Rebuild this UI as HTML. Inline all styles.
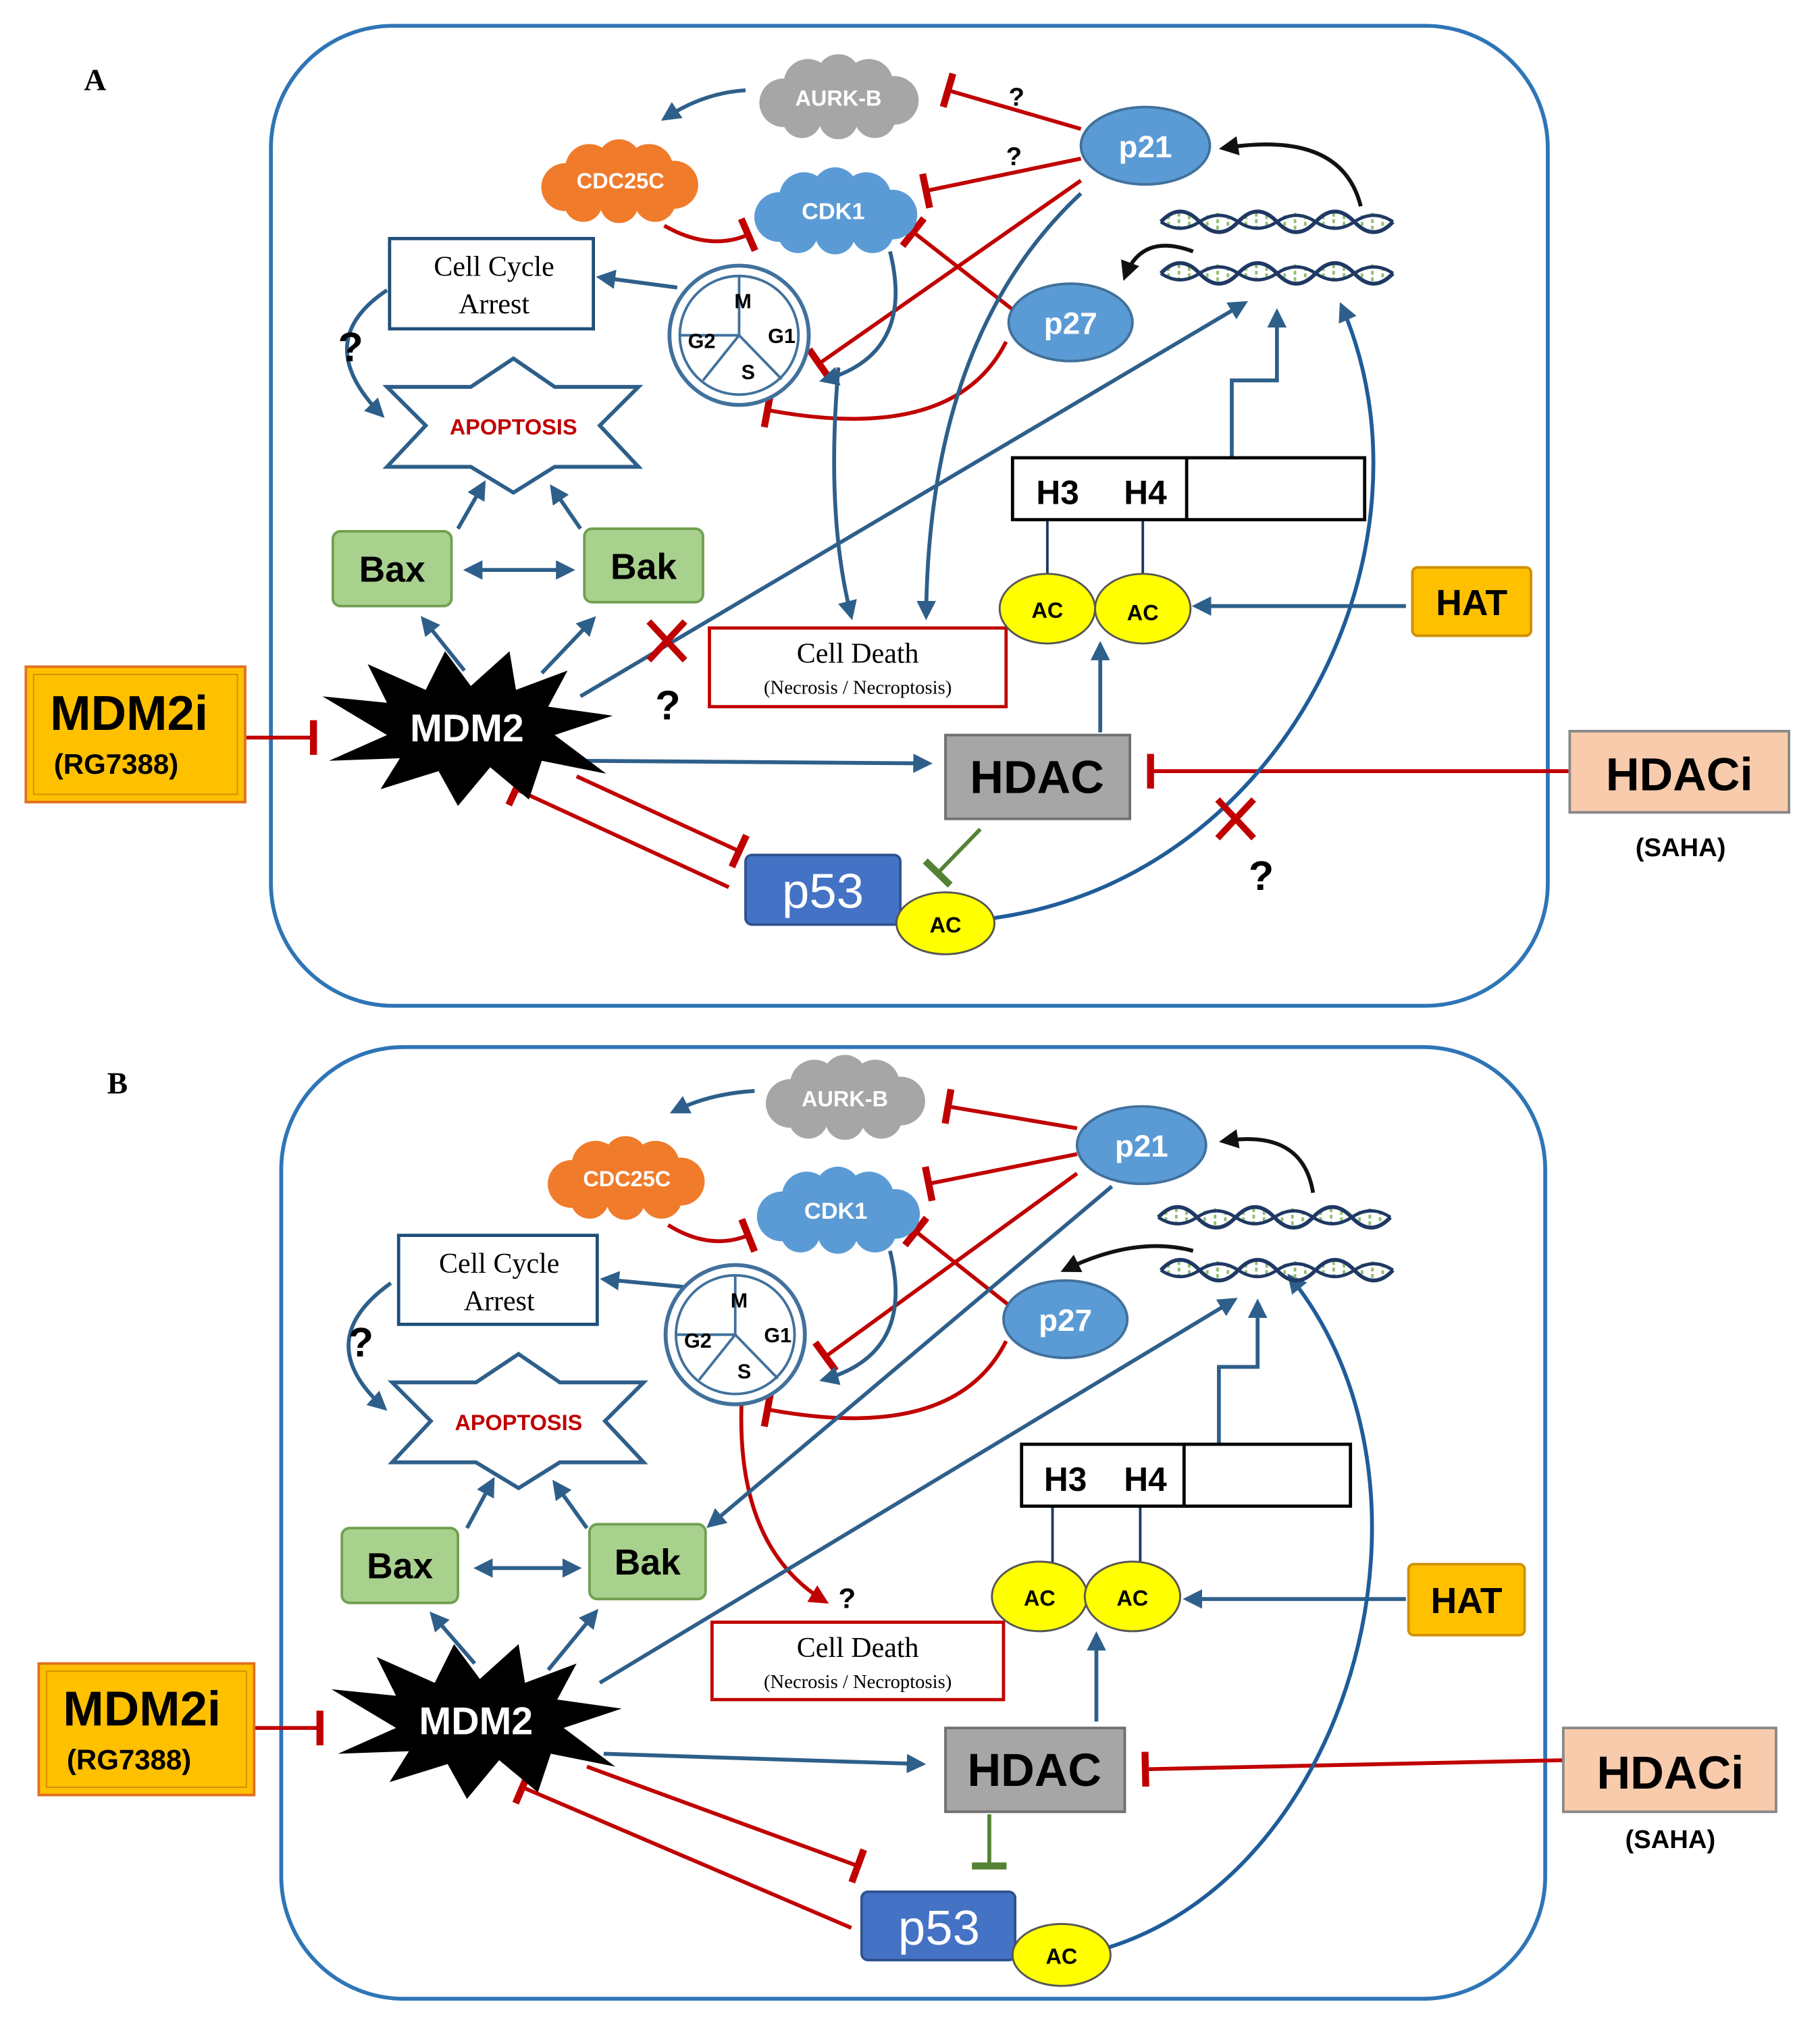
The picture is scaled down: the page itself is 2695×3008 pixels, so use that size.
<!DOCTYPE html>
<html><head><meta charset="utf-8"><style>
html,body{margin:0;padding:0;background:#fff}
svg{display:block}
text{font-family:"Liberation Sans","DejaVu Sans",sans-serif}
.serif{font-family:"Liberation Serif",serif}
</style></head><body>
<svg width="2695" height="3008" viewBox="0 0 1411 1575" xmlns="http://www.w3.org/2000/svg">
<defs>
<marker id="ab" viewBox="0 0 10 10" refX="8" refY="5" markerWidth="5" markerHeight="5" orient="auto-start-reverse"><path d="M0,0L10,5L0,10z" fill="#2e5f8a"/></marker>
<marker id="ak" viewBox="0 0 10 10" refX="8" refY="5" markerWidth="5" markerHeight="5" orient="auto"><path d="M0,0L10,5L0,10z" fill="#111"/></marker>
<marker id="ar" viewBox="0 0 10 10" refX="8" refY="5" markerWidth="5" markerHeight="5" orient="auto"><path d="M0,0L10,5L0,10z" fill="#c00000"/></marker>
<marker id="tr" viewBox="0 0 4 20" refX="2" refY="10" markerWidth="3" markerHeight="9" orient="auto"><rect x="0" y="0" width="4" height="20" fill="#c00000"/></marker>
<marker id="tg" viewBox="0 0 4 20" refX="2" refY="10" markerWidth="3" markerHeight="9" orient="auto"><rect x="0" y="0" width="4" height="20" fill="#548235"/></marker>
<symbol id="cloud" viewBox="0 0 140 70">
<circle cx="25" cy="40" r="20"/><circle cx="45" cy="24" r="20"/><circle cx="70" cy="18" r="18"/><circle cx="95" cy="24" r="20"/><circle cx="116" cy="38" r="20"/><circle cx="100" cy="52" r="17"/><circle cx="70" cy="54" r="16"/><circle cx="40" cy="53" r="16"/><circle cx="70" cy="37" r="26"/>
</symbol>
<g id="dna" fill="none">
<path d="M0,0v0M6,-5v10M14,-7v14M22,-5v10M36,-5v10M44,-7v14M52,-5v10M66,-5v10M74,-7v14M82,-5v10M96,-5v10M104,-7v14M112,-5v10M126,-5v10M134,-7v14M142,-5v10M156,-5v10M164,-7v14M172,-5v10" stroke="#8fbf6f" stroke-width="2" stroke-dasharray="3 2"/>
<path d="M0,0 q15,-16 30,0 t30,0 t30,0 t30,0 t30,0 t30,0" stroke="#1f3864" stroke-width="3"/>
<path d="M0,0 q15,10 30,0 t30,0 t30,0 t30,0 t30,0 t30,0" stroke="#1f3864" stroke-width="2.5"/>
</g>
</defs>

<!-- ================= PANEL A ================= -->
<text x="65" y="70" class="serif" font-size="24" font-weight="bold">A</text>
<rect x="210" y="20" width="990" height="760" rx="95" fill="none" stroke="#2e75b6" stroke-width="3"/>

<g fill="none" stroke-width="3">
<path d="M838,100 L735,70" stroke="#c00000" marker-end="url(#tr)"/>
<path d="M838,123 L718,148" stroke="#c00000" marker-end="url(#tr)"/>
<path d="M838,140 L635,282" stroke="#c00000" marker-end="url(#tr)"/>
<path d="M785,240 L708,180" stroke="#c00000" marker-end="url(#tr)"/>
<path d="M780,265 Q740,345 595,318" stroke="#c00000" marker-end="url(#tr)"/>
<path d="M515,175 Q550,195 580,182" stroke="#c00000" marker-end="url(#tr)"/>
<path d="M578,70 Q545,72 515,92" stroke="#2e5f8a" marker-end="url(#ab)"/>
<path d="M690,195 Q710,275 638,295" stroke="#2e5f8a" marker-end="url(#ab)"/>
<path d="M838,150 Q720,260 718,478" stroke="#2e5f8a" marker-end="url(#ab)"/>
<path d="M650,285 Q640,400 660,478" stroke="#2e5f8a" marker-end="url(#ab)"/>
<path d="M525,223 L465,215" stroke="#2e5f8a" marker-end="url(#ab)"/>
<path d="M300,225 Q240,265 296,322" stroke="#2e5f8a" marker-end="url(#ab)"/>
<path d="M1055,160 Q1040,100 948,115" stroke="#111" marker-end="url(#ak)"/>
<path d="M925,195 Q885,180 872,215" stroke="#111" marker-end="url(#ak)"/>
<path d="M355,410 L375,375" stroke="#2e5f8a" marker-end="url(#ab)"/>
<path d="M450,410 L428,378" stroke="#2e5f8a" marker-end="url(#ab)"/>
<path d="M362,442 L443,442" stroke="#2e5f8a" marker-start="url(#ab)" marker-end="url(#ab)"/>
<path d="M360,520 L328,480" stroke="#2e5f8a" marker-end="url(#ab)"/>
<path d="M420,522 L460,480" stroke="#2e5f8a" marker-end="url(#ab)"/>
<path d="M450,540 L965,235" stroke="#2e5f8a" marker-end="url(#ab)"/>
<path d="M955,355 V295 H990 V242" stroke="#2e5f8a" marker-end="url(#ab)"/>
<path d="M455,590 L720,592" stroke="#2e5f8a" marker-end="url(#ab)"/>
<path d="M853,568 L853,500" stroke="#2e5f8a" marker-end="url(#ab)"/>
<path d="M1090,470 L927,470" stroke="#2e5f8a" marker-end="url(#ab)"/>
<path d="M190,572 L243,572" stroke="#c00000" marker-end="url(#tr)"/>
<path d="M1217,598 L892,598" stroke="#c00000" marker-end="url(#tr)"/>
<path d="M760,643 L727,677" stroke="#548235" marker-end="url(#tg)"/>
<path d="M447,602 L573,660" stroke="#c00000" marker-end="url(#tr)"/>
<path d="M565,688 L400,612" stroke="#c00000" marker-end="url(#tr)"/>
<path d="M770,712 C1000,680 1120,420 1040,237" stroke="#1f5c99" marker-end="url(#ab)"/>
<path d="M812,445 V403 M886,445 V403" stroke="#1f3864" stroke-width="2"/>
</g>
<path d="M503,482 L531,512 M531,482 L503,512" stroke="#c00000" stroke-width="5"/>
<path d="M944,620 L972,650 M972,620 L944,650" stroke="#c00000" stroke-width="5"/>
<text x="508" y="558" font-size="32" font-weight="bold">?</text>
<text x="968" y="690" font-size="32" font-weight="bold">?</text>
<text x="782" y="82" font-size="20" font-weight="bold">?</text>
<text x="780" y="128" font-size="20" font-weight="bold">?</text>
<text x="262" y="280" font-size="32" font-weight="bold">?</text>

<use href="#cloud" x="580" y="42" width="140" height="66" fill="#a6a6a6"/>
<text x="650" y="82" font-size="17" font-weight="bold" fill="#fff" text-anchor="middle">AURK-B</text>
<use href="#cloud" x="415" y="103" width="130" height="75" fill="#f07b2b"/>
<text x="481" y="146" font-size="17" font-weight="bold" fill="#fff" text-anchor="middle">CDC25C</text>
<use href="#cloud" x="580" y="126" width="135" height="75" fill="#5b9bd5"/>
<text x="646" y="170" font-size="18" font-weight="bold" fill="#fff" text-anchor="middle">CDK1</text>
<ellipse cx="888" cy="113" rx="50" ry="30" fill="#5b9bd5" stroke="#41719c" stroke-width="2"/>
<text x="888" y="122" font-size="24" font-weight="bold" fill="#fff" text-anchor="middle">p21</text>
<ellipse cx="830" cy="250" rx="48" ry="30" fill="#5b9bd5" stroke="#41719c" stroke-width="2"/>
<text x="830" y="259" font-size="24" font-weight="bold" fill="#fff" text-anchor="middle">p27</text>
<use href="#dna" x="900" y="172"/>
<use href="#dna" x="900" y="212"/>
<rect x="302" y="185" width="158" height="70" fill="#fff" stroke="#1f4e79" stroke-width="2.5"/>
<text x="383" y="214" class="serif" font-size="22" text-anchor="middle">Cell Cycle</text>
<text x="383" y="243" class="serif" font-size="22" text-anchor="middle">Arrest</text>
<g stroke="#41719c" stroke-width="3" fill="#fff">
<circle cx="573" cy="260" r="54"/><circle cx="573" cy="260" r="46" stroke-width="2"/>
<path d="M573,214 V260 M527,260 H573 M573,260 L606,294 M573,260 L545,295" stroke-width="2"/>
</g>
<text x="576" y="239" font-size="16" font-weight="bold" text-anchor="middle">M</text>
<text x="544" y="270" font-size="16" font-weight="bold" text-anchor="middle">G2</text>
<text x="606" y="266" font-size="16" font-weight="bold" text-anchor="middle">G1</text>
<text x="580" y="294" font-size="16" font-weight="bold" text-anchor="middle">S</text>
<polygon points="398,278 430,300 495,300 465,330 495,362 430,362 398,382 365,362 300,362 330,330 300,300 365,300" fill="#fff" stroke="#2e5f8a" stroke-width="3"/>
<text x="398" y="337" font-size="17" font-weight="bold" fill="#c00000" text-anchor="middle">APOPTOSIS</text>
<rect x="258" y="412" width="92" height="58" rx="6" fill="#a9d18e" stroke="#70a050" stroke-width="2"/>
<text x="304" y="451" font-size="28" font-weight="bold" text-anchor="middle">Bax</text>
<rect x="453" y="410" width="92" height="57" rx="6" fill="#a9d18e" stroke="#70a050" stroke-width="2"/>
<text x="499" y="449" font-size="28" font-weight="bold" text-anchor="middle">Bak</text>
<polygon points="250,540 300,545 285,515 330,535 345,505 365,532 395,505 400,535 440,520 425,548 475,555 430,570 470,600 420,590 410,620 380,595 355,625 340,598 295,612 310,588 255,590 300,570" fill="#000"/>
<text x="362" y="575" font-size="30" font-weight="bold" fill="#fff" text-anchor="middle">MDM2</text>
<rect x="20" y="517" width="170" height="105" fill="#ffc000" stroke="#e07020" stroke-width="2"/>
<rect x="26" y="523" width="158" height="93" fill="none" stroke="#d09000" stroke-width="1"/>
<text x="100" y="566" font-size="38" font-weight="bold" text-anchor="middle">MDM2i</text>
<text x="90" y="600" font-size="22" font-weight="bold" text-anchor="middle">(RG7388)</text>
<rect x="550" y="487" width="230" height="61" fill="#fff" stroke="#c00000" stroke-width="2.5"/>
<text x="665" y="514" class="serif" font-size="22" text-anchor="middle">Cell Death</text>
<text x="665" y="538" class="serif" font-size="15" text-anchor="middle">(Necrosis / Necroptosis)</text>
<rect x="785" y="355" width="273" height="48" fill="#fff" stroke="#000" stroke-width="2.5"/>
<path d="M920,355 V403" stroke="#000" stroke-width="2.5"/>
<text x="820" y="391" font-size="26" font-weight="bold" text-anchor="middle">H3</text>
<text x="888" y="391" font-size="26" font-weight="bold" text-anchor="middle">H4</text>
<ellipse cx="812" cy="472" rx="37" ry="27" fill="#ffff00" stroke="#555" stroke-width="1.5"/>
<ellipse cx="886" cy="472" rx="37" ry="27" fill="#ffff00" stroke="#555" stroke-width="1.5"/>
<text x="812" y="479" font-size="17" font-weight="bold" text-anchor="middle">AC</text>
<text x="886" y="481" font-size="17" font-weight="bold" text-anchor="middle">AC</text>
<rect x="1095" y="440" width="92" height="53" rx="4" fill="#ffc000" stroke="#d09000" stroke-width="2"/>
<text x="1141" y="477" font-size="28" font-weight="bold" text-anchor="middle">HAT</text>
<rect x="733" y="570" width="143" height="65" fill="#a6a6a6" stroke="#707070" stroke-width="2"/>
<text x="804" y="615" font-size="36" font-weight="bold" text-anchor="middle">HDAC</text>
<rect x="1217" y="567" width="170" height="63" fill="#f8cbad" stroke="#888" stroke-width="2"/>
<text x="1302" y="613" font-size="36" font-weight="bold" text-anchor="middle">HDACi</text>
<text x="1303" y="664" font-size="20" font-weight="bold" text-anchor="middle">(SAHA)</text>
<rect x="578" y="663" width="120" height="54" rx="5" fill="#4472c4" stroke="#2f528f" stroke-width="2"/>
<text x="638" y="704" font-size="38" fill="#fff" text-anchor="middle">p53</text>
<ellipse cx="733" cy="716" rx="38" ry="24" fill="#ffff00" stroke="#555" stroke-width="1.5"/>
<text x="733" y="723" font-size="17" font-weight="bold" text-anchor="middle">AC</text>

<!-- ================= PANEL B ================= -->
<text x="83" y="848" class="serif" font-size="24" font-weight="bold">B</text>
<rect x="218" y="812" width="980" height="738" rx="95" fill="none" stroke="#2e75b6" stroke-width="3"/>

<g fill="none" stroke-width="3">
<path d="M835,875 L735,858" stroke="#c00000" marker-end="url(#tr)"/>
<path d="M835,895 L720,918" stroke="#c00000" marker-end="url(#tr)"/>
<path d="M835,910 L640,1052" stroke="#c00000" marker-end="url(#tr)"/>
<path d="M782,1012 L710,955" stroke="#c00000" marker-end="url(#tr)"/>
<path d="M780,1040 Q740,1120 595,1093" stroke="#c00000" marker-end="url(#tr)"/>
<path d="M518,950 Q550,970 580,958" stroke="#c00000" marker-end="url(#tr)"/>
<path d="M575,1085 Q570,1200 640,1242" stroke="#c00000" marker-end="url(#ar)"/>
<path d="M585,846 Q550,848 522,862" stroke="#2e5f8a" marker-end="url(#ab)"/>
<path d="M690,970 Q710,1050 638,1070" stroke="#2e5f8a" marker-end="url(#ab)"/>
<path d="M862,920 L550,1183" stroke="#2e5f8a" marker-end="url(#ab)"/>
<path d="M530,998 L468,992" stroke="#2e5f8a" marker-end="url(#ab)"/>
<path d="M303,995 Q240,1040 298,1092" stroke="#2e5f8a" marker-end="url(#ab)"/>
<path d="M1018,925 Q1010,875 948,885" stroke="#111" marker-end="url(#ak)"/>
<path d="M925,970 Q880,958 825,985" stroke="#111" marker-end="url(#ak)"/>
<path d="M362,1185 L382,1148" stroke="#2e5f8a" marker-end="url(#ab)"/>
<path d="M455,1185 L430,1150" stroke="#2e5f8a" marker-end="url(#ab)"/>
<path d="M370,1216 L448,1216" stroke="#2e5f8a" marker-start="url(#ab)" marker-end="url(#ab)"/>
<path d="M368,1290 L335,1252" stroke="#2e5f8a" marker-end="url(#ab)"/>
<path d="M425,1295 L462,1250" stroke="#2e5f8a" marker-end="url(#ab)"/>
<path d="M465,1305 L957,1008" stroke="#2e5f8a" marker-end="url(#ab)"/>
<path d="M945,1120 V1060 H975 V1010" stroke="#2e5f8a" marker-end="url(#ab)"/>
<path d="M468,1360 L715,1368" stroke="#2e5f8a" marker-end="url(#ab)"/>
<path d="M850,1335 L850,1268" stroke="#2e5f8a" marker-end="url(#ab)"/>
<path d="M1090,1240 L920,1240" stroke="#2e5f8a" marker-end="url(#ab)"/>
<path d="M197,1340 L248,1340" stroke="#c00000" marker-end="url(#tr)"/>
<path d="M1212,1365 L888,1372" stroke="#c00000" marker-end="url(#tr)"/>
<path d="M767,1407 L767,1447" stroke="#548235" marker-end="url(#tg)"/>
<path d="M455,1370 L665,1447" stroke="#c00000" marker-end="url(#tr)"/>
<path d="M660,1495 L405,1386" stroke="#c00000" marker-end="url(#tr)"/>
<path d="M860,1510 C1050,1450 1130,1150 1000,990" stroke="#1f5c99" marker-end="url(#ab)"/>
<path d="M816,1212 V1168 M884,1212 V1168" stroke="#1f3864" stroke-width="2"/>
</g>
<text x="270" y="1052" font-size="32" font-weight="bold">?</text>
<text x="650" y="1247" font-size="22" font-weight="bold">?</text>

<use href="#cloud" x="585" y="818" width="140" height="66" fill="#a6a6a6"/>
<text x="655" y="858" font-size="17" font-weight="bold" fill="#fff" text-anchor="middle">AURK-B</text>
<use href="#cloud" x="420" y="876" width="130" height="75" fill="#f07b2b"/>
<text x="486" y="920" font-size="17" font-weight="bold" fill="#fff" text-anchor="middle">CDC25C</text>
<use href="#cloud" x="582" y="901" width="135" height="75" fill="#5b9bd5"/>
<text x="648" y="945" font-size="18" font-weight="bold" fill="#fff" text-anchor="middle">CDK1</text>
<ellipse cx="885" cy="888" rx="50" ry="30" fill="#5b9bd5" stroke="#41719c" stroke-width="2"/>
<text x="885" y="897" font-size="24" font-weight="bold" fill="#fff" text-anchor="middle">p21</text>
<ellipse cx="826" cy="1023" rx="48" ry="30" fill="#5b9bd5" stroke="#41719c" stroke-width="2"/>
<text x="826" y="1032" font-size="24" font-weight="bold" fill="#fff" text-anchor="middle">p27</text>
<use href="#dna" x="898" y="944"/>
<use href="#dna" x="900" y="985"/>
<rect x="309" y="958" width="154" height="69" fill="#fff" stroke="#1f4e79" stroke-width="2.5"/>
<text x="387" y="987" class="serif" font-size="22" text-anchor="middle">Cell Cycle</text>
<text x="387" y="1016" class="serif" font-size="22" text-anchor="middle">Arrest</text>
<g stroke="#41719c" stroke-width="3" fill="#fff">
<circle cx="570" cy="1035" r="54"/><circle cx="570" cy="1035" r="46" stroke-width="2"/>
<path d="M570,989 V1035 M524,1035 H570 M570,1035 L603,1069 M570,1035 L542,1070" stroke-width="2"/>
</g>
<text x="573" y="1014" font-size="16" font-weight="bold" text-anchor="middle">M</text>
<text x="541" y="1045" font-size="16" font-weight="bold" text-anchor="middle">G2</text>
<text x="603" y="1041" font-size="16" font-weight="bold" text-anchor="middle">G1</text>
<text x="577" y="1069" font-size="16" font-weight="bold" text-anchor="middle">S</text>
<polygon points="402,1050 434,1072 499,1072 469,1102 499,1134 434,1134 402,1154 369,1134 304,1134 334,1102 304,1072 369,1072" fill="#fff" stroke="#2e5f8a" stroke-width="3"/>
<text x="402" y="1109" font-size="17" font-weight="bold" fill="#c00000" text-anchor="middle">APOPTOSIS</text>
<rect x="265" y="1185" width="90" height="58" rx="6" fill="#a9d18e" stroke="#70a050" stroke-width="2"/>
<text x="310" y="1224" font-size="28" font-weight="bold" text-anchor="middle">Bax</text>
<rect x="457" y="1182" width="90" height="58" rx="6" fill="#a9d18e" stroke="#70a050" stroke-width="2"/>
<text x="502" y="1221" font-size="28" font-weight="bold" text-anchor="middle">Bak</text>
<g transform="translate(7,770)">
<polygon points="250,540 300,545 285,515 330,535 345,505 365,532 395,505 400,535 440,520 425,548 475,555 430,570 470,600 420,590 410,620 380,595 355,625 340,598 295,612 310,588 255,590 300,570" fill="#000"/>
<text x="362" y="575" font-size="30" font-weight="bold" fill="#fff" text-anchor="middle">MDM2</text>
</g>
<rect x="30" y="1290" width="167" height="102" fill="#ffc000" stroke="#e07020" stroke-width="2"/>
<rect x="36" y="1296" width="155" height="90" fill="none" stroke="#d09000" stroke-width="1"/>
<text x="110" y="1338" font-size="38" font-weight="bold" text-anchor="middle">MDM2i</text>
<text x="100" y="1372" font-size="22" font-weight="bold" text-anchor="middle">(RG7388)</text>
<rect x="552" y="1258" width="226" height="60" fill="#fff" stroke="#c00000" stroke-width="2.5"/>
<text x="665" y="1285" class="serif" font-size="22" text-anchor="middle">Cell Death</text>
<text x="665" y="1309" class="serif" font-size="15" text-anchor="middle">(Necrosis / Necroptosis)</text>
<rect x="792" y="1120" width="255" height="48" fill="#fff" stroke="#000" stroke-width="2.5"/>
<path d="M918,1120 V1168" stroke="#000" stroke-width="2.5"/>
<text x="826" y="1156" font-size="26" font-weight="bold" text-anchor="middle">H3</text>
<text x="888" y="1156" font-size="26" font-weight="bold" text-anchor="middle">H4</text>
<ellipse cx="806" cy="1238" rx="37" ry="27" fill="#ffff00" stroke="#555" stroke-width="1.5"/>
<ellipse cx="878" cy="1238" rx="37" ry="27" fill="#ffff00" stroke="#555" stroke-width="1.5"/>
<text x="806" y="1245" font-size="17" font-weight="bold" text-anchor="middle">AC</text>
<text x="878" y="1245" font-size="17" font-weight="bold" text-anchor="middle">AC</text>
<rect x="1092" y="1213" width="90" height="55" rx="4" fill="#ffc000" stroke="#d09000" stroke-width="2"/>
<text x="1137" y="1251" font-size="28" font-weight="bold" text-anchor="middle">HAT</text>
<rect x="733" y="1340" width="139" height="65" fill="#a6a6a6" stroke="#707070" stroke-width="2"/>
<text x="802" y="1385" font-size="36" font-weight="bold" text-anchor="middle">HDAC</text>
<rect x="1212" y="1340" width="165" height="65" fill="#f8cbad" stroke="#888" stroke-width="2"/>
<text x="1295" y="1387" font-size="36" font-weight="bold" text-anchor="middle">HDACi</text>
<text x="1295" y="1433" font-size="20" font-weight="bold" text-anchor="middle">(SAHA)</text>
<rect x="668" y="1467" width="119" height="53" rx="5" fill="#4472c4" stroke="#2f528f" stroke-width="2"/>
<text x="728" y="1508" font-size="38" fill="#fff" text-anchor="middle">p53</text>
<ellipse cx="823" cy="1516" rx="38" ry="24" fill="#ffff00" stroke="#555" stroke-width="1.5"/>
<text x="823" y="1523" font-size="17" font-weight="bold" text-anchor="middle">AC</text>
</svg>
</body></html>
